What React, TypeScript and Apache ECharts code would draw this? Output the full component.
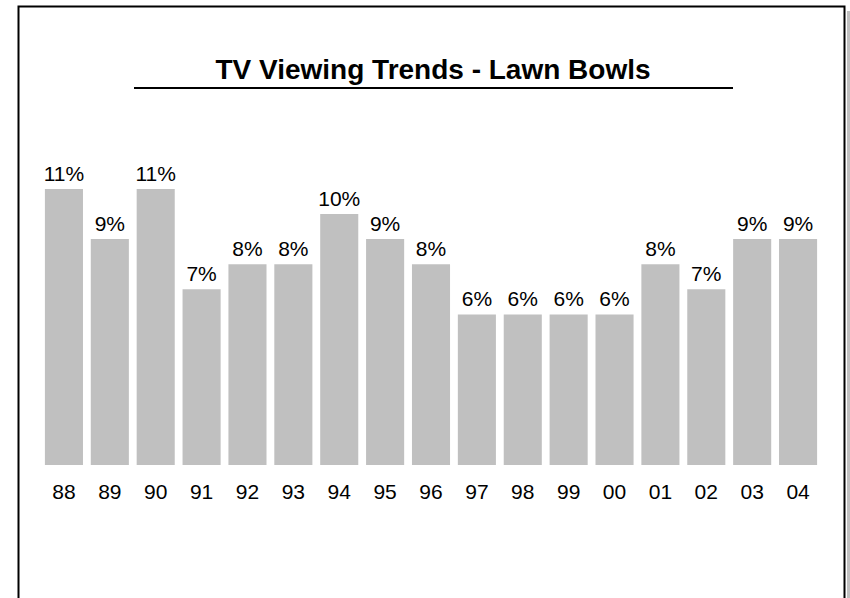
import React, { useEffect, useRef } from "react";
import * as echarts from "echarts";

const categories = ["88", "89", "90", "91", "92", "93", "94", "95", "96", "97", "98", "99", "00", "01", "02", "03", "04"];
const viewingShare = [11, 9, 11, 7, 8, 8, 10, 9, 8, 6, 6, 6, 6, 8, 7, 9, 9];
const chartTitle = "TV Viewing Trends - Lawn Bowls";

export default function App() {
  const ref = useRef<HTMLDivElement>(null);
  useEffect(() => {
    document.body.style.margin = "0";
    if (!ref.current) return;
    const chart = echarts.init(ref.current, null, { renderer: "svg" });
    const font = "'Liberation Sans', Arial, sans-serif";
    chart.setOption({
      animation: false,
      backgroundColor: "#ffffff",
      title: {
        text: chartTitle,
        left: 428,
        top: 50,
        textAlign: "center",
        textStyle: { fontFamily: font, fontSize: 28, fontWeight: "bold", color: "#000" },
      },
      graphic: [
        { type: "rect", shape: { x: 847, y: 11, width: 3, height: 600 }, style: { fill: "#c0c0c0" } },
        { type: "rect", shape: { x: 18.5, y: 6.5, width: 826, height: 620 }, style: { fill: "none", stroke: "#000", lineWidth: 2 } },
        { type: "line", shape: { x1: 134, y1: 88, x2: 733, y2: 88 }, style: { stroke: "#000", lineWidth: 2 } },
      ],
      grid: { left: 41, right: 29, top: 163.8, bottom: 598 - 465 },
      xAxis: {
        type: "category",
        data: categories,
        axisLine: { show: false },
        axisTick: { show: false },
        axisLabel: { fontFamily: font, fontSize: 21, color: "#000", margin: 16 },
      },
      yAxis: { type: "value", min: 0, max: 12, show: false, splitLine: { show: false } },
      series: [
        {
          type: "bar",
          data: viewingShare,
          barCategoryGap: "17%",
          itemStyle: { color: "#c0c0c0" },
          label: {
            show: true,
            position: "top",
            distance: 5,
            formatter: "{c}%",
            fontFamily: font,
            fontSize: 21,
            color: "#000",
          },
        },
      ],
    });
    return () => chart.dispose();
  }, []);
  return <div ref={ref} style={{ width: 850, height: 598 }} />;
}
